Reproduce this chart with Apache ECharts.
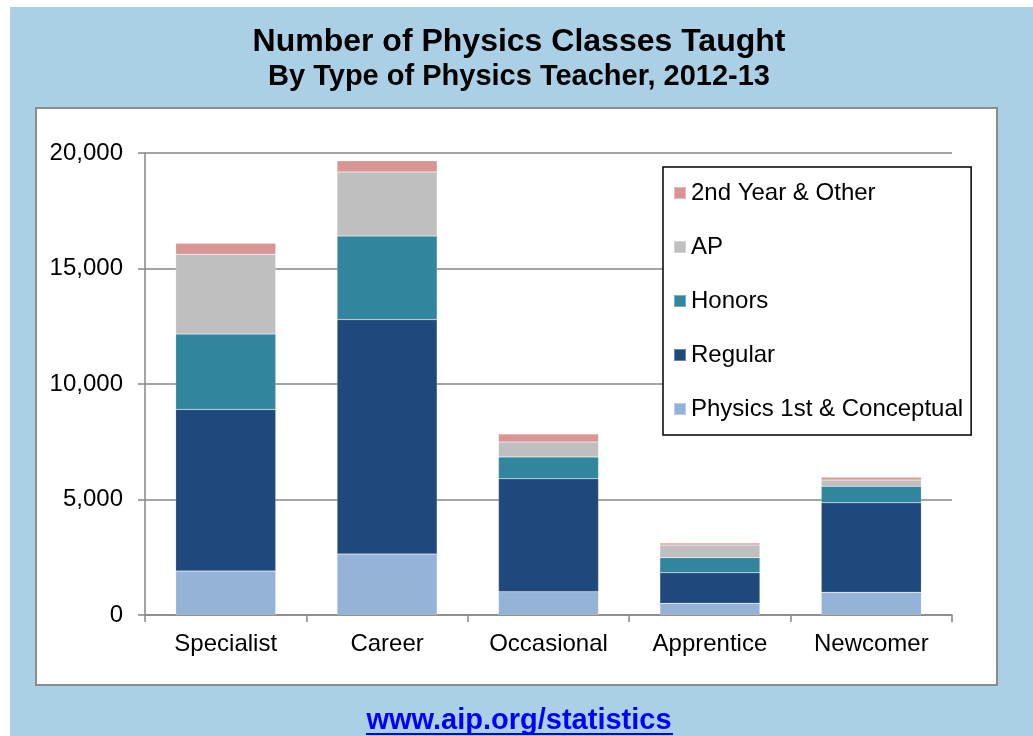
<!DOCTYPE html>
<html>
<head>
<meta charset="utf-8">
<script src="https://cdn.jsdelivr.net/npm/echarts@6/dist/echarts.min.js"></script>
<style>
  html, body { margin: 0; padding: 0; background: #ffffff; }
  #chart { width: 1033px; height: 736px; }
</style>
</head>
<body>
<div id="chart"></div>
<script>
const categories = ['Specialist', 'Career', 'Occasional', 'Apprentice', 'Newcomer']
const physicsFirst = [1900, 2640, 1010, 505, 980]
const regular = [7000, 10150, 4890, 1325, 3880]
const honors = [3260, 3620, 940, 650, 710]
const ap = [3460, 2770, 650, 550, 275]
const secondYear = [470, 480, 350, 90, 115]
const yTicks = [0, 5000, 10000, 15000, 20000]

const font = 'Liberation Sans, Arial, sans-serif'

const seriesList = [
  { name: 'Physics 1st & Conceptual', data: physicsFirst, color: '#95b3d7' },
  { name: 'Regular', data: regular, color: '#1f497d' },
  { name: 'Honors', data: honors, color: '#31859c' },
  { name: 'AP', data: ap, color: '#bfbfbf' },
  { name: '2nd Year & Other', data: secondYear, color: '#d99594' }
]

const chart = echarts.init(document.getElementById('chart'), null, { renderer: 'canvas' })

chart.setOption({
  animation: false,
  backgroundColor: '#ffffff',
  textStyle: { fontFamily: font },
  graphic: [
    {
      type: 'rect',
      z: -10,
      shape: { x: 10, y: 7, width: 1023, height: 729 },
      style: { fill: '#abd0e6' }
    },
    {
      type: 'rect',
      z: -9,
      shape: { x: 36, y: 108, width: 961, height: 577 },
      style: { fill: '#ffffff', stroke: '#8c8c8c', lineWidth: 2 }
    },
    {
      type: 'text',
      z: 10,
      style: {
        x: 519, y: 42, text: 'Number of Physics Classes Taught',
        align: 'center', verticalAlign: 'middle',
        font: 'bold 32px ' + font, fill: '#000000'
      }
    },
    {
      type: 'text',
      z: 10,
      style: {
        x: 519, y: 77, text: 'By Type of Physics Teacher, 2012-13',
        align: 'center', verticalAlign: 'middle',
        font: 'bold 29px ' + font, fill: '#000000'
      }
    },
    {
      type: 'text',
      z: 10,
      style: {
        x: 519, y: 721, text: 'www.aip.org/statistics',
        align: 'center', verticalAlign: 'middle',
        font: 'bold 29px ' + font, fill: '#0000ff'
      }
    },
    {
      type: 'line',
      z: 10,
      shape: { x1: 366, y1: 734, x2: 673, y2: 734 },
      style: { stroke: '#0000ff', lineWidth: 2 }
    }
  ],
  legend: {
    orient: 'vertical',
    left: 663,
    top: 167,
    data: ['2nd Year & Other', 'AP', 'Honors', 'Regular', 'Physics 1st & Conceptual'],
    icon: 'rect',
    itemWidth: 12,
    itemHeight: 12,
    itemGap: 30,
    padding: [14, 8, 14, 10],
    borderColor: '#000000',
    borderWidth: 1.5,
    backgroundColor: '#ffffff',
    textStyle: { fontFamily: font, fontSize: 24, color: '#000000' }
  },
  grid: {
    left: 145,
    right: 81,
    top: 153,
    bottom: 121,
    containLabel: false
  },
  xAxis: {
    type: 'category',
    data: categories,
    axisLine: { lineStyle: { color: '#868686', width: 1.5 } },
    axisTick: { show: true, alignWithLabel: false, length: 7, lineStyle: { color: '#868686', width: 1.5 } },
    axisLabel: { color: '#000000', fontSize: 24, margin: 17, fontFamily: font }
  },
  yAxis: {
    type: 'value',
    min: yTicks[0],
    max: yTicks[yTicks.length - 1],
    interval: yTicks[1] - yTicks[0],
    axisLine: { show: true, lineStyle: { color: '#868686', width: 1.5 } },
    axisTick: { show: true, length: 7, lineStyle: { color: '#868686', width: 1.5 } },
    splitLine: { lineStyle: { color: '#868686', width: 1.5 } },
    axisLabel: {
      color: '#000000',
      fontSize: 24,
      margin: 22,
      fontFamily: font,
      formatter(value) {
        return Number(value).toLocaleString('en-US')
      }
    }
  },
  series: seriesList.map((item) => ({
    name: item.name,
    type: 'bar',
    stack: 'total',
    barWidth: '62%',
    data: item.data,
    itemStyle: { color: item.color, borderColor: 'rgba(255,255,255,0.35)', borderWidth: 0.5 }
  }))
})
</script>
</body>
</html>
